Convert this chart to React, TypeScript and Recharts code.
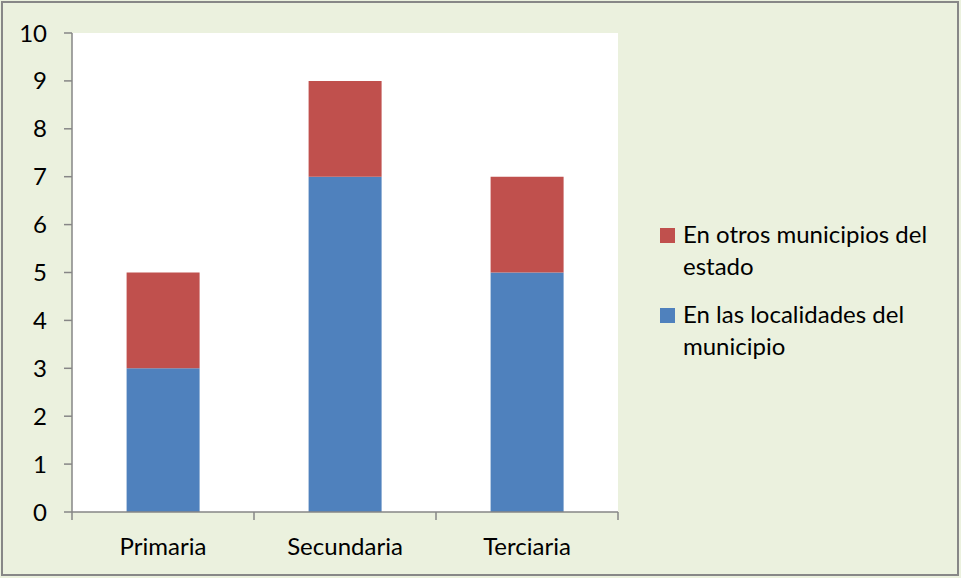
import React from 'react';
import { BarChart, Bar, XAxis, YAxis, CartesianGrid, Legend } from 'recharts';

const categories = ['Primaria', 'Secundaria', 'Terciaria'];
const localidades = [3, 7, 5];
const otrosMunicipios = [2, 2, 2];
const yTicks = [0, 1, 2, 3, 4, 5, 6, 7, 8, 9, 10];
const seriesNames = ['En las localidades del municipio', 'En otros municipios del estado'];
const colors = ['#4F81BD', '#C0504D'];

const data = categories.map((c, i) => ({
  name: c,
  loc: localidades[i],
  otros: otrosMunicipios[i],
}));

const FONT = 'Lato, "Open Sans", sans-serif';

const XTick = (props: any) => {
  const { x, payload, index } = props;
  const half = payload && payload.offset ? payload.offset : 91;
  const axisY = 512;
  return (
    <g>
      <line x1={x - half} x2={x - half} y1={axisY} y2={axisY + 8} stroke="#868686" strokeWidth={1.5} />
      {index === categories.length - 1 && (
        <line x1={x + half} x2={x + half} y1={axisY} y2={axisY + 8} stroke="#868686" strokeWidth={1.5} />
      )}
      <text x={x} y={axisY + 43} textAnchor="middle" fill="#000" fontSize={24} fontFamily={FONT}>
        {payload.value}
      </text>
    </g>
  );
};

const LegendContent = () => {
  const items = [
    { name: seriesNames[1], color: colors[1] },
    { name: seriesNames[0], color: colors[0] },
  ];
  return (
    <div style={{ fontFamily: FONT, fontSize: 24, color: '#000', textAlign: 'left' }}>
      {items.map((it) => (
        <div key={it.name} style={{ display: 'flex', alignItems: 'flex-start', marginBottom: 16, lineHeight: '32px' }}>
          <div style={{ width: 15, height: 15, background: it.color, marginTop: 10, marginRight: 8, flexShrink: 0 }} />
          <div style={{ width: 262 }}>{it.name}</div>
        </div>
      ))}
    </div>
  );
};

export default function App() {
  return (
    <div style={{ position: 'absolute', left: 0, top: 0, width: 961, height: 578, background: '#EBF1DE' }}>
      <BarChart
        width={961}
        height={578}
        data={data}
        margin={{ top: 33, right: 343, bottom: 0, left: 0 }}
        barCategoryGap="30%"
      >
        <CartesianGrid horizontal={false} vertical={false} fill="#FFFFFF" />
        <XAxis
          dataKey="name"
          height={66}
          axisLine={{ stroke: '#868686', strokeWidth: 1.5 }}
          tickLine={false}
          tick={<XTick />}
          interval={0}
        />
        <YAxis
          width={72}
          domain={[0, 10]}
          ticks={yTicks}
          interval={0}
          axisLine={{ stroke: '#868686', strokeWidth: 1.5 }}
          tickLine={{ stroke: '#868686', strokeWidth: 1.5 }}
          tickSize={8}
          tickMargin={17}
          tick={{ fill: '#000', fontSize: 24, fontFamily: FONT }}
        />
        <Legend
          layout="horizontal"
          verticalAlign="middle"
          align="center"
          content={<LegendContent />}
          wrapperStyle={{ left: 660, top: 218, width: 295, right: 'auto', bottom: 'auto' }}
        />
        <Bar dataKey="loc" stackId="a" fill={colors[0]} name={seriesNames[0]} isAnimationActive={false} />
        <Bar dataKey="otros" stackId="a" fill={colors[1]} name={seriesNames[1]} isAnimationActive={false} />
      </BarChart>
      <div
        style={{
          position: 'absolute',
          left: 1,
          top: 1,
          width: 958,
          height: 575,
          border: '2px solid #878787',
          boxSizing: 'border-box',
          pointerEvents: 'none',
        }}
      />
    </div>
  );
}
